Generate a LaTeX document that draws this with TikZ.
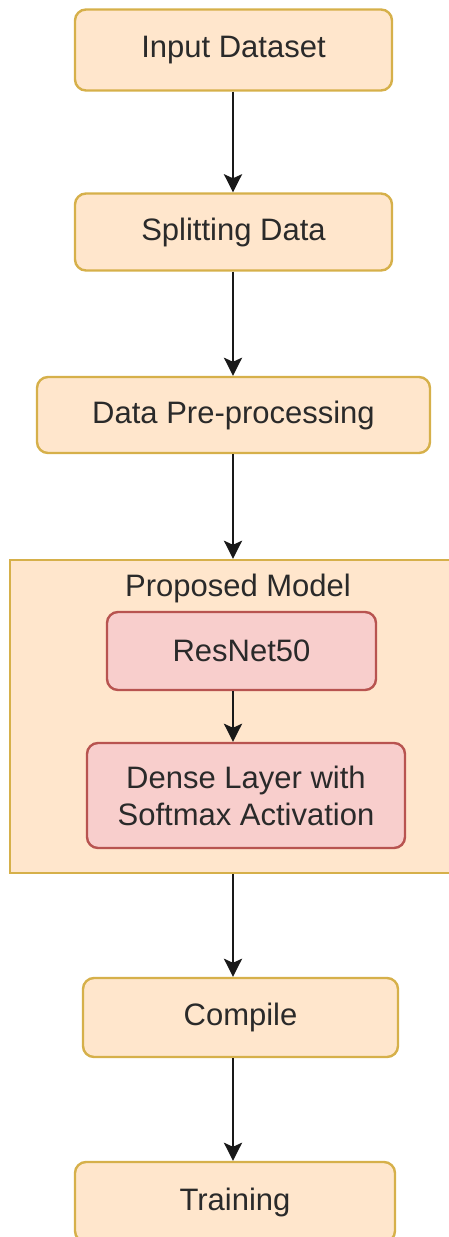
\documentclass[tikz,border=0pt]{standalone}
\usepackage{fontspec}
\setmainfont{Liberation Sans}
\usetikzlibrary{arrows.meta}

\definecolor{stepfill}{HTML}{FFE6CC}
\definecolor{stepline}{HTML}{D6B04A}
\definecolor{netfill}{HTML}{F8CECC}
\definecolor{netline}{HTML}{B85450}
\definecolor{txt}{HTML}{2A2A2A}

\tikzset{
  stepbox/.style={draw=stepline, fill=stepfill, line width=2.4pt,
    rounded corners=11pt, inner sep=0pt, text=txt,
    font=\fontsize{31}{37}\selectfont, align=center},
  netbox/.style={stepbox, draw=netline, fill=netfill},
  groupbox/.style={draw=stepline, fill=stepfill, line width=2.4pt,
    inner sep=0pt},
  flow/.style={line width=2.9pt, draw=black!90,
    -{Stealth[length=18pt, width=18pt, inset=4pt]}},
}

\begin{document}
\begin{tikzpicture}[x=1pt, y=-1pt]
  \useasboundingbox (0,0) rectangle (448,1237);

  % main pipeline steps
  \node[stepbox, minimum width=317pt, minimum height=81pt] (input) at (233.5,50) {Input Dataset};
  \node[stepbox, minimum width=317pt, minimum height=77pt] (split) at (233.5,232) {Splitting Data};
  \node[stepbox, minimum width=393pt, minimum height=76pt] (prep) at (233.5,415) {Data Pre-processing};

  % model group
  \node[groupbox, minimum width=450pt, minimum height=313pt] (model) at (235,716.5) {};
  \node[text=txt, font=\fontsize{31}{37}\selectfont, inner sep=0pt] (modeltitle) at (238,588) {Proposed Model};
  \node[netbox, minimum width=269pt, minimum height=78pt] (resnet) at (241.5,651) {ResNet50};
  \node[netbox, minimum width=318pt, minimum height=105pt] (dense) at (246,795.5) {Dense Layer with\\Softmax Activation};

  \node[stepbox, minimum width=315pt, minimum height=79pt] (compile) at (240.5,1017.5) {Compile};
  \node[stepbox, minimum width=320pt, minimum height=80pt] (train) at (235,1202) {Training};

  % connectors
  \draw[flow] (input.south -| 233,0) -- (split.north -| 233,0);
  \draw[flow] (split.south -| 233,0) -- (prep.north -| 233,0);
  \draw[flow] (prep.south -| 233,0) -- (model.north -| 233,0);
  \draw[flow] (resnet.south -| 233,0) -- (dense.north -| 233,0);
  \draw[flow] (model.south -| 233,0) -- (compile.north -| 233,0);
  \draw[flow] (compile.south -| 233,0) -- (train.north -| 233,0);
\end{tikzpicture}
\end{document}
